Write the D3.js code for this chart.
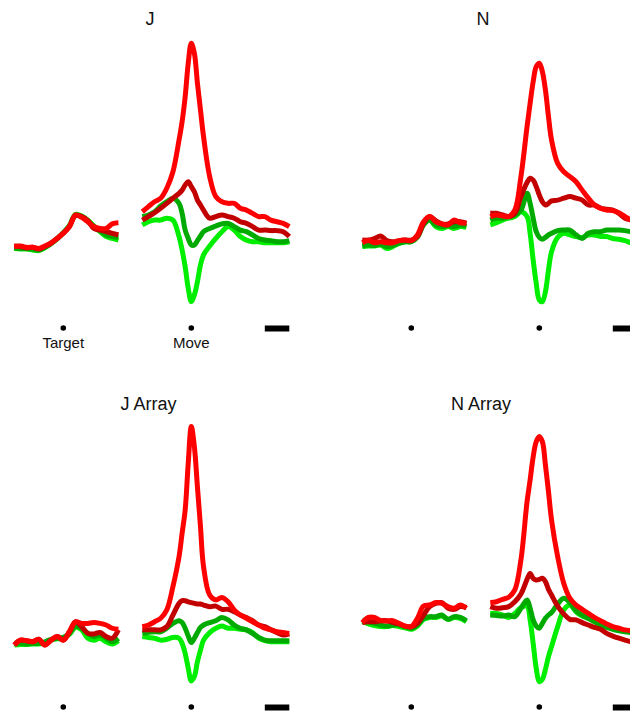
<!DOCTYPE html>
<html>
<head>
<meta charset="utf-8">
<script src="https://cdn.jsdelivr.net/npm/d3@7"></script>
<style>
  body { margin: 0; background: #fff; }
  text { font-family: "Liberation Sans", Arial, sans-serif; fill: #111; }
</style>
</head>
<body>
<div class="chart"></div>
<script>
// time samples (ms) for the two alignments
const targetTimes = [-200, -175, -150, -125, -100, -75, -50, -25, 0, 25, 50, 75, 100, 125, 150, 175, 200, 225];
const moveTimes = [-200, -175, -150, -125, -100, -75, -50, -37.5, -25, -12.5, 0, 12.5, 25, 37.5, 50, 75, 100, 125, 150, 175, 200, 225, 250, 275, 300, 325, 350, 375, 400];

const panelNames = ["J", "N", "J Array", "N Array"];
const seriesNames = ["red", "darkred", "darkgreen", "green"];
const eventLabels = ["Target", "Move"];
const scaleBarMs = [300, 400];

// firing rate (a.u.), order: red, darkred, darkgreen, green
const jTarget = [
  [23.5, 23.7, 23.2, 23.2, 22.8, 23.7, 24.9, 26.5, 28.4, 30.9, 35.2, 34.3, 32.7, 30.9, 30.2, 30.2, 31.9, 32.3],
  [23.7, 23.5, 23.0, 23.2, 22.6, 23.5, 24.7, 26.5, 28.4, 30.9, 35.0, 34.6, 33.1, 30.2, 29.6, 29.0, 28.4, 27.8],
  [23.0, 22.8, 22.8, 22.6, 22.2, 23.2, 24.7, 26.5, 28.6, 31.1, 35.2, 34.6, 33.1, 30.9, 29.4, 27.8, 27.2, 26.9],
  [22.8, 22.6, 22.6, 22.2, 22.0, 23.0, 24.5, 26.3, 28.6, 31.3, 35.4, 34.8, 33.3, 31.1, 29.0, 27.2, 26.5, 25.9]
];
const jMove = [
  [36.4, 38.3, 40.1, 41.4, 45.1, 51.2, 63.0, 69.8, 79.0, 91.4, 98.8, 95.1, 84.0, 74.1, 64.2, 49.4, 42.0, 40.1, 39.5, 39.5, 37.7, 37.0, 35.8, 34.6, 34.6, 33.3, 32.7, 32.1, 30.9],
  [33.3, 34.6, 36.0, 37.7, 39.5, 41.4, 43.2, 44.4, 46.3, 47.5, 45.7, 43.8, 40.7, 38.9, 37.0, 34.0, 34.6, 35.2, 34.6, 34.0, 32.7, 32.1, 30.9, 29.6, 29.6, 29.4, 29.4, 29.0, 27.2],
  [34.6, 35.2, 36.4, 38.5, 40.1, 41.4, 39.5, 35.8, 29.6, 26.5, 24.1, 24.1, 25.7, 27.4, 29.0, 30.2, 31.1, 31.9, 32.1, 30.9, 29.6, 29.0, 27.8, 26.5, 25.9, 25.7, 25.3, 25.3, 25.7],
  [31.5, 32.7, 33.3, 33.3, 34.0, 33.3, 27.2, 22.2, 16.0, 8.0, 3.1, 5.6, 10.5, 16.7, 20.4, 23.7, 26.5, 29.0, 30.9, 29.6, 27.2, 25.9, 25.3, 25.3, 24.9, 24.9, 24.9, 24.9, 25.3]
];
const nTarget = [
  [24.9, 25.7, 24.9, 25.3, 24.9, 24.9, 25.7, 25.9, 25.7, 27.8, 32.7, 34.6, 32.7, 31.9, 31.5, 33.3, 32.3, 32.3],
  [25.9, 25.9, 26.5, 27.4, 25.7, 25.3, 25.7, 25.9, 25.9, 27.2, 32.1, 34.6, 33.1, 31.9, 31.9, 32.7, 32.7, 32.1],
  [23.7, 24.1, 23.9, 24.3, 23.5, 23.9, 24.7, 25.3, 25.3, 27.0, 31.5, 33.3, 31.5, 30.9, 31.3, 30.9, 31.5, 31.1],
  [23.5, 23.7, 23.7, 24.1, 22.8, 23.5, 24.7, 25.3, 25.3, 27.2, 31.9, 33.3, 30.9, 30.2, 30.9, 30.2, 30.9, 30.6]
];
const nMove = [
  [34.6, 35.2, 34.8, 34.6, 37.0, 49.4, 67.9, 76.5, 84.6, 90.1, 91.4, 88.3, 81.5, 71.6, 63.0, 54.3, 51.2, 49.4, 47.5, 44.4, 41.4, 38.9, 37.7, 37.0, 36.8, 36.0, 34.6, 33.3, 32.7],
  [35.8, 35.8, 35.2, 34.6, 35.8, 42.0, 47.2, 48.8, 48.1, 45.7, 42.6, 40.1, 38.9, 39.5, 40.4, 40.7, 41.4, 42.0, 41.4, 40.7, 38.9, 38.9, 37.7, 37.3, 37.0, 35.8, 34.0, 33.3, 32.7],
  [33.3, 34.0, 34.0, 34.6, 35.2, 37.0, 43.2, 39.5, 34.0, 29.0, 26.9, 26.2, 26.9, 27.8, 28.4, 29.4, 29.6, 29.6, 27.8, 26.5, 28.4, 29.0, 29.0, 29.6, 29.6, 29.6, 29.4, 29.0, 29.0],
  [31.5, 32.3, 33.3, 34.0, 34.6, 36.4, 34.6, 28.4, 18.5, 9.9, 3.7, 3.1, 6.8, 14.8, 21.6, 26.9, 28.4, 27.8, 27.2, 26.9, 27.8, 27.8, 27.2, 27.2, 26.5, 26.2, 25.7, 24.9, 24.7]
];
const jArrayTarget = [
  [16.3, 18.1, 17.9, 17.5, 18.4, 16.3, 18.1, 19.4, 18.1, 21.2, 24.9, 24.3, 24.3, 24.6, 24.3, 23.7, 22.5, 22.1],
  [16.3, 18.1, 17.9, 17.5, 18.4, 16.3, 18.1, 19.4, 18.1, 21.2, 24.9, 23.1, 20.6, 20.4, 20.9, 19.4, 18.8, 21.9],
  [16.9, 16.9, 16.7, 16.9, 16.9, 17.5, 18.4, 18.8, 19.1, 20.6, 23.3, 22.5, 20.6, 19.4, 20.0, 18.8, 17.5, 18.8],
  [16.3, 16.5, 16.5, 16.7, 16.7, 17.2, 18.1, 18.6, 18.8, 20.2, 22.8, 21.9, 18.8, 18.1, 18.8, 17.5, 16.7, 17.9]
];
const jArrayMove = [
  [23.1, 23.7, 24.9, 26.2, 29.3, 37.9, 49.0, 57.7, 66.3, 83.6, 97.2, 89.8, 74.9, 60.1, 45.3, 34.8, 33.0, 33.9, 32.3, 29.3, 27.4, 26.2, 24.9, 23.7, 22.5, 21.9, 21.2, 20.9, 20.6],
  [21.9, 21.9, 21.9, 21.9, 23.1, 27.4, 31.7, 32.7, 32.7, 32.3, 32.0, 31.7, 31.5, 31.5, 31.1, 30.5, 30.7, 29.5, 29.5, 28.6, 27.4, 26.5, 25.3, 23.7, 23.1, 21.9, 20.9, 20.0, 20.4],
  [20.6, 21.0, 21.2, 21.2, 22.5, 24.3, 25.3, 24.6, 22.5, 19.6, 17.2, 18.8, 20.9, 22.8, 23.7, 24.6, 25.3, 26.5, 25.6, 23.7, 22.5, 21.9, 20.6, 19.1, 18.1, 17.9, 17.9, 17.9, 17.9],
  [19.4, 19.1, 18.8, 18.1, 18.4, 19.1, 18.8, 16.9, 13.2, 7.7, 3.0, 4.6, 10.1, 14.4, 18.1, 20.9, 22.5, 23.3, 22.5, 22.5, 22.1, 21.9, 20.9, 18.8, 17.9, 17.5, 17.5, 17.5, 17.5]
];
const nArrayTarget = [
  [24.6, 26.5, 26.5, 25.3, 25.2, 25.3, 24.3, 23.3, 23.1, 26.2, 30.7, 31.1, 32.0, 31.7, 30.5, 29.9, 31.1, 29.9],
  [24.6, 24.9, 24.9, 25.3, 25.3, 24.6, 24.1, 23.3, 23.1, 24.3, 27.4, 30.5, 31.7, 32.0, 29.9, 29.5, 30.5, 30.2],
  [25.6, 24.9, 24.3, 23.7, 23.3, 23.7, 23.7, 23.1, 22.5, 23.7, 26.2, 26.8, 26.8, 27.4, 25.8, 26.8, 26.5, 25.3],
  [24.9, 24.1, 23.5, 23.1, 23.1, 23.5, 23.1, 22.7, 22.1, 23.3, 25.8, 26.5, 26.5, 27.0, 25.8, 26.5, 26.2, 24.9]
];
const nArrayMove = [
  [32.0, 32.3, 33.2, 34.0, 36.7, 47.8, 69.4, 77.4, 86.0, 91.6, 93.5, 91.6, 83.0, 73.1, 62.6, 49.0, 39.1, 33.6, 31.1, 29.5, 28.0, 26.5, 25.3, 24.1, 23.1, 22.5, 21.9, 21.6, 21.2],
  [30.5, 29.9, 30.1, 30.5, 32.3, 35.2, 40.6, 42.8, 41.0, 40.4, 40.6, 41.0, 39.8, 36.9, 34.8, 30.7, 27.8, 25.8, 25.6, 24.6, 23.7, 22.8, 22.1, 20.6, 19.6, 18.8, 18.1, 17.5, 17.2],
  [27.4, 27.2, 27.0, 27.4, 26.8, 29.9, 33.0, 29.9, 25.6, 23.3, 22.5, 24.3, 26.2, 27.4, 28.3, 31.5, 33.6, 32.0, 29.0, 27.4, 26.2, 24.9, 23.7, 22.8, 22.1, 21.6, 21.2, 20.9, 20.6],
  [28.0, 28.0, 27.4, 26.5, 28.0, 30.1, 30.7, 25.6, 16.9, 7.7, 2.7, 3.6, 7.3, 12.0, 15.7, 23.1, 29.3, 31.1, 28.6, 27.0, 26.2, 25.3, 24.3, 23.3, 22.5, 22.1, 21.6, 21.2, 20.9]
];

// layout
const width = 630, height = 713;
const colors = { red: "#ff0000", darkred: "#c30000", darkgreen: "#00aa00", green: "#00ee00" };
const panelOffsets = [[0, 0], [348, 0], [0, 379], [348, 379]];
const titlePos = [[150, 25], [135, 25], [148.5, 31], [133, 31]];
const dotY = 328;

const svg = d3.select(".chart")
  .append("svg")
  .attr("width", width)
  .attr("height", height);

// scales (shared by all panels, panels are translated)
const xTarget = d3.scaleLinear().domain([-200, 225]).range([14.3, 118.4]);
const xMove = d3.scaleLinear().domain([-200, 400]).range([142.3, 289.3]);
const y = d3.scaleLinear().domain([0, 100]).range([310, 40]);

const panelData = [
  { target: jTarget, move: jMove },
  { target: nTarget, move: nMove },
  { target: jArrayTarget, move: jArrayMove },
  { target: nArrayTarget, move: nArrayMove }
];

panelNames.forEach((name, p) => {
  const g = svg.append("g")
    .attr("transform", `translate(${panelOffsets[p][0]},${panelOffsets[p][1]})`);

  g.append("text")
    .attr("x", titlePos[p][0])
    .attr("y", titlePos[p][1])
    .attr("text-anchor", "middle")
    .style("font-size", "18px")
    .text(name);

  // draw green first so red ends up on top
  [3, 2, 1, 0].forEach(s => {
    const segs = [
      { x: xTarget, t: targetTimes, v: panelData[p].target[s] },
      { x: xMove, t: moveTimes, v: panelData[p].move[s] }
    ];
    segs.forEach(seg => {
      const line = d3.line()
        .x((d, i) => seg.x(seg.t[i]))
        .y(d => y(d))
        .curve(d3.curveCatmullRom.alpha(0.5));
      g.append("path")
        .datum(seg.v)
        .attr("class", "trace " + seriesNames[s])
        .attr("d", line)
        .attr("fill", "none")
        .attr("stroke", colors[seriesNames[s]])
        .attr("stroke-width", 5)
        .attr("stroke-linejoin", "round");
    });
  });

  // event markers
  g.append("circle").attr("cx", xTarget(0)).attr("cy", dotY).attr("r", 2.8).attr("fill", "#000");
  g.append("circle").attr("cx", xMove(0)).attr("cy", dotY).attr("r", 2.8).attr("fill", "#000");

  // 100 ms scale bar
  g.append("rect")
    .attr("x", xMove(scaleBarMs[0]))
    .attr("y", dotY - 2.5)
    .attr("width", xMove(scaleBarMs[1]) - xMove(scaleBarMs[0]))
    .attr("height", 6)
    .attr("fill", "#000");

  if (p === 0) {
    [xTarget(0), xMove(0)].forEach((cx, i) => {
      g.append("text")
        .attr("x", cx)
        .attr("y", 348)
        .attr("text-anchor", "middle")
        .style("font-size", "15px")
        .text(eventLabels[i]);
    });
  }
});
</script>
</body>
</html>
